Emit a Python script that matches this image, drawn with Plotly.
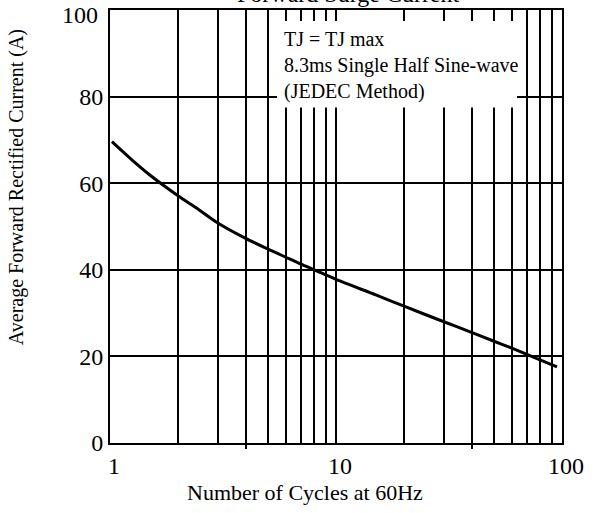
import plotly.graph_objects as go

# Data
cycles = [1.02, 1.25, 1.5, 2, 2.5, 3, 4, 5, 6, 7, 8, 10, 15, 20, 30, 40, 50, 60, 72, 95]
current = [69.6, 65.4, 61.9, 57.1, 53.7, 50.8, 47.2, 44.8, 42.9, 41.3, 40.0, 37.8,
           34.2, 31.6, 28.0, 25.5, 23.5, 21.9, 20.2, 17.6]

x_tickvals = [1, 10, 100]
x_ticktext = ["1", "10", "100"]
y_tickvals = [0, 20, 40, 60, 80, 100]
x_grid_minor = [2, 3, 4, 5, 6, 7, 8, 9, 20, 30, 40, 50, 60, 70, 80, 90]
x_marked = [4, 40]

title_text = "Forward Surge Current"
x_title = "Number of Cycles at 60Hz"
y_title = "Average Forward Rectified Current (A)"
note_lines = ["TJ = TJ max", "8.3ms Single Half Sine-wave", "(JEDEC Method)"]

FONT = "Liberation Serif, Times New Roman, serif"
W, H = 606, 513
L, R, T, B = 110, 44, 8, 70
PW, PH = W - L - R, H - T - B


def px(xp):
    return (xp - L) / PW


def py(yp):
    return (H - B - yp) / PH


fig = go.Figure()
fig.add_trace(go.Scatter(x=cycles, y=current, mode="lines",
                         line=dict(color="black", width=3, shape="spline", smoothing=0.8),
                         showlegend=False, hoverinfo="skip"))

# secondary x axis: minor vertical grid lines
fig.add_trace(go.Scatter(x=[1, 100], y=[0, 0], xaxis="x2", mode="lines",
                         line=dict(width=0), showlegend=False, hoverinfo="skip"))
# third x axis: the small ticks below the axis
fig.add_trace(go.Scatter(x=[1, 100], y=[0, 0], xaxis="x3", mode="lines",
                         line=dict(width=0), showlegend=False, hoverinfo="skip"))

fig.update_layout(
    width=W, height=H,
    margin=dict(l=L, r=R, t=T, b=B),
    paper_bgcolor="white", plot_bgcolor="white",
    font=dict(family=FONT, color="black"),
    xaxis=dict(type="log", range=[0, 2], tickvals=x_tickvals, ticktext=x_ticktext,
               showgrid=True, gridcolor="black", gridwidth=2,
               showline=True, linecolor="black", linewidth=2, mirror=True,
               ticks="", ticklabelshift=4,
               tickfont=dict(size=24, family=FONT, color="black"),
               zeroline=False),
    xaxis2=dict(type="log", range=[0, 2], overlaying="x", tickvals=x_grid_minor,
                showticklabels=False, showgrid=True, gridcolor="black", gridwidth=2,
                ticks="", showline=False, zeroline=False, side="bottom"),
    xaxis3=dict(type="log", range=[0, 2], overlaying="x", tickvals=x_marked,
                showticklabels=False, showgrid=False, ticks="outside",
                ticklen=5, tickwidth=1.5, tickcolor="black",
                showline=False, zeroline=False, side="bottom"),
    yaxis=dict(range=[0, 100], tickvals=y_tickvals[:-1],
               showgrid=True, gridcolor="black", gridwidth=2,
               showline=True, linecolor="black", linewidth=2, mirror=True,
               ticks="", tickfont=dict(size=24, family=FONT, color="black"),
               zeroline=False),
)

# top y tick label, sitting a little below the top edge as in the reference
fig.add_annotation(text=str(y_tickvals[-1]), xref="paper", yref="y",
                   x=px(100), y=y_tickvals[-1], yshift=-5,
                   xanchor="right", yanchor="middle", showarrow=False,
                   font=dict(size=24, family=FONT, color="black"))

# white box behind the note
fig.add_shape(type="rect", xref="paper", yref="paper",
              x0=px(277), x1=px(517), y0=py(106), y1=py(19),
              fillcolor="white", line=dict(width=0), layer="above")

fig.add_annotation(text="<br>".join(note_lines), xref="paper", yref="paper",
                   x=px(282), y=py(24), xanchor="left", yanchor="top", align="left",
                   showarrow=False, font=dict(size=20, family=FONT, color="black"))

fig.add_annotation(text=title_text, xref="paper", yref="paper",
                   x=px(348), y=1, xanchor="center", yanchor="bottom", yshift=1,
                   showarrow=False, font=dict(size=24, family=FONT, color="black"))

fig.add_annotation(text=x_title, xref="paper", yref="paper",
                   x=px(305), y=py(493), xanchor="center", yanchor="middle",
                   showarrow=False, font=dict(size=22, family=FONT, color="black"))

fig.add_annotation(text=y_title, xref="paper", yref="paper", textangle=-90,
                   x=px(16), y=py(186), xanchor="center", yanchor="middle",
                   showarrow=False, font=dict(size=20, family=FONT, color="black"))

fig.write_html("out.html", config={"displayModeBar": False},
               post_script="document.body.style.margin='0';")
